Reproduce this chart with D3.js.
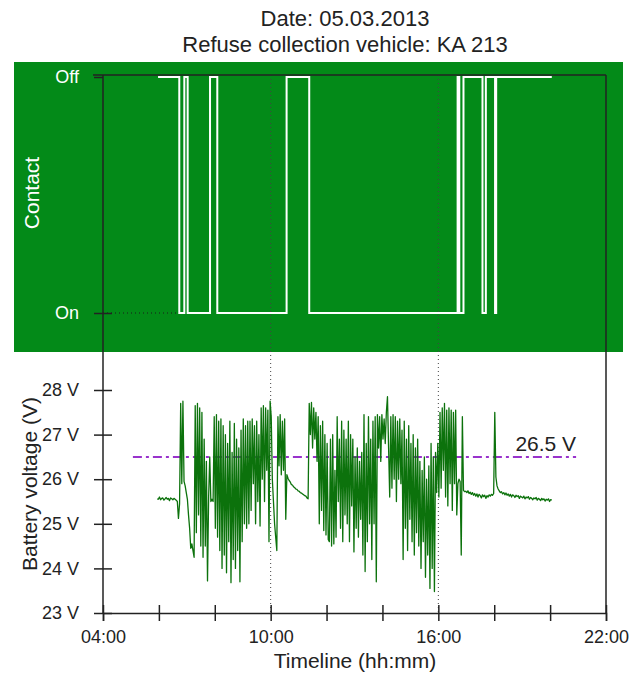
<!DOCTYPE html>
<html>
<head>
<meta charset="utf-8">
<script src="https://cdn.jsdelivr.net/npm/d3@7"></script>
<style>
  body { margin: 0; background: #fff; }
  svg { display: block; font-family: "Liberation Sans", Arial, sans-serif; }
</style>
</head>
<body>
<svg id="chart"></svg>
<script>
const width = 641, height = 675;

// ignition contact: change times (hours) and state from that time on
const contactTimes = [5.97, 6.73, 6.91, 7.03, 7.83, 8.09, 10.57, 11.38, 16.69, 16.75, 16.90, 17.58, 17.70, 18.03, 18.07, 20.06];
const contactStates = ["Off", "On", "Off", "On", "Off", "On", "Off", "On", "Off", "On", "Off", "On", "Off", "On", "Off", "Off"];

// battery voltage, logged every 0.04 h from 05:56
const voltStart = 5.94, voltStep = 0.04;
const voltage = [
  25.56, 25.55, 25.60, 25.54, 25.57, 25.58, 25.53, 25.56, 25.59, 25.55, 25.57, 25.52, 25.58, 25.56, 25.54, 25.57, 25.55, 25.53, 25.50,
  25.12, 25.45, 27.70, 25.90, 27.75, 25.95, 25.85, 25.70, 25.55, 25.20, 24.90, 24.45, 24.55, 24.40, 24.25,
  27.65, 24.80, 27.70, 25.20, 27.60, 24.50, 27.50, 24.25, 26.90, 24.50, 26.40, 23.72, 25.60, 26.50, 25.50, 25.55,
  25.50, 27.40, 24.90, 27.45, 24.70, 27.30, 24.40, 27.35, 24.00, 27.20, 24.30, 27.00, 23.90, 26.80, 24.60, 27.30, 23.68,
  26.60, 24.20, 27.25, 24.00, 26.90, 24.40, 26.70, 23.70, 27.10, 24.60, 27.35, 25.00, 27.20, 24.90, 27.30, 25.00, 27.30, 25.30,
  27.35, 25.90, 27.20, 25.00, 27.30, 25.50, 27.00, 24.95, 27.60, 26.00, 27.65, 25.50, 27.60, 26.20, 27.55, 24.60, 27.75, 27.40, 26.00, 25.50, 25.00, 24.70, 24.40,
  27.40, 26.30, 27.45, 26.10, 27.30, 26.20, 27.35, 25.10, 26.10,
  26.02, 25.97, 25.94, 25.88, 25.87, 25.83, 25.81, 25.78, 25.77, 25.74, 25.73, 25.70, 25.69, 25.67, 25.65, 25.63, 25.62, 25.58, 25.56,
  27.70, 27.00, 27.72, 26.70, 27.60, 26.90, 27.50, 26.40, 27.40, 25.00, 27.20, 25.30, 27.30, 24.85, 27.00, 24.75, 26.80, 24.65, 24.60, 26.90, 24.50, 27.00, 24.55, 26.20, 24.70, 27.40, 25.50, 26.90, 24.90,
  27.30, 24.60, 27.10, 25.20, 26.90, 25.00, 27.30, 24.60, 27.00, 25.40, 26.90, 24.37, 26.50, 24.90, 26.70, 24.70, 26.40, 25.10, 26.60, 24.30, 27.45, 23.93,
  26.80, 24.60, 27.40, 25.00, 26.90, 24.20, 27.30, 25.00, 27.40, 23.70, 27.45, 26.70, 27.40, 26.40, 27.45, 26.90, 27.35, 26.80, 27.50, 27.85, 26.70, 25.60,
  27.40, 25.80, 27.45, 26.00, 27.40, 25.50, 27.30, 26.00, 27.35, 25.90, 27.10, 24.20, 27.30, 24.90, 26.90, 24.40, 27.20, 25.10, 26.80, 24.60,
  27.00, 24.30, 26.70, 24.80, 26.90, 24.50, 26.40, 24.00, 26.20, 24.60, 26.50, 23.80, 26.00, 24.30, 26.30, 23.55, 26.80, 24.00, 26.50, 23.48,
  26.60, 25.70, 26.80, 25.60, 27.50, 25.80, 27.60, 26.20, 27.70, 25.60, 27.55, 25.40, 27.60, 25.90, 27.55, 25.30, 27.50, 25.90, 27.55, 25.20,
  25.90, 26.00, 25.95, 24.30, 27.40, 25.75, 25.72,
  25.73, 25.70, 25.74, 25.68, 25.71, 25.66, 25.70, 25.64, 25.68, 25.62, 25.67, 25.60, 25.66, 25.63, 25.58, 25.65, 25.61, 25.64, 25.57, 25.63, 25.60, 25.65, 25.62, 25.66, 25.64, 25.68,
  27.50, 26.05, 25.85, 25.78,
  25.74, 25.70, 25.72, 25.67, 25.70, 25.65, 25.69, 25.64, 25.67, 25.62, 25.66, 25.60, 25.65, 25.63, 25.59, 25.64, 25.61, 25.63, 25.57, 25.62,
  25.60, 25.58, 25.62, 25.56, 25.60, 25.58, 25.61, 25.55, 25.59, 25.57, 25.54, 25.58, 25.56, 25.59, 25.53, 25.57, 25.55, 25.52, 25.57, 25.54,
  25.56, 25.51, 25.55, 25.53, 25.56, 25.50, 25.54, 25.53
];

const refLevel = 26.5, refStart = 5.07, refEnd = 20.93;
const markerHours = [10, 16];
const hourTicks = [4, 6, 8, 10, 12, 14, 16, 18, 20, 22];
const hourLabels = [4, 10, 16, 22];
const voltTicks = [23, 24, 25, 26, 27, 28];

const svg = d3.select("#chart").attr("width", width).attr("height", height);

const x = d3.scaleLinear().domain([4, 22]).range([103, 606]);
const yV = d3.scaleLinear().domain([23, 28]).range([613, 390]);
const yC = d3.scalePoint().domain(["Off", "On"]).range([77, 313]);
const frameTop = 75, ink = "#222";

// green contact panel
svg.append("rect")
    .attr("x", 14).attr("y", 62).attr("width", 609).attr("height", 290)
    .attr("fill", "#038a18");

// titles
svg.append("text").attr("x", 345).attr("y", 26).attr("text-anchor", "middle")
    .attr("font-size", 22).attr("fill", ink).text("Date: 05.03.2013");
svg.append("text").attr("x", 345).attr("y", 52).attr("text-anchor", "middle")
    .attr("font-size", 22).attr("fill", ink).text("Refuse collection vehicle: KA 213");

// dotted time markers
svg.selectAll(".marker")
    .data(markerHours)
    .enter().append("line")
    .attr("class", "marker")
    .attr("x1", d => x(d)).attr("x2", d => x(d))
    .attr("y1", frameTop).attr("y2", yV(23))
    .attr("stroke", "#444").attr("stroke-width", 1)
    .attr("stroke-dasharray", "1,3");

// dotted guide at "On" up to the first switch-on
svg.append("line")
    .attr("x1", x(4)).attr("x2", x(contactTimes[1]))
    .attr("y1", yC("On")).attr("y2", yC("On"))
    .attr("stroke", "#1a1a1a").attr("stroke-width", 1)
    .attr("stroke-dasharray", "1,3");

// frame
svg.append("line").attr("x1", 93).attr("x2", x(22)).attr("y1", frameTop).attr("y2", frameTop)
    .attr("stroke", ink).attr("stroke-width", 1.5);
svg.append("line").attr("x1", x(4)).attr("x2", x(4)).attr("y1", frameTop).attr("y2", yV(23))
    .attr("stroke", ink).attr("stroke-width", 1.5);
svg.append("line").attr("x1", x(22)).attr("x2", x(22)).attr("y1", frameTop).attr("y2", yV(23))
    .attr("stroke", ink).attr("stroke-width", 1.5);

// contact step line
const contact = contactTimes.map((t, i) => [t, contactStates[i]]);
svg.append("path")
    .datum(contact)
    .attr("fill", "none")
    .attr("stroke", "#fff")
    .attr("stroke-width", 2)
    .attr("d", d3.line().x(d => x(d[0])).y(d => yC(d[1])).curve(d3.curveStepAfter));

// contact axis
const cAxis = svg.append("g")
    .attr("transform", `translate(${x(4)},0)`)
    .call(d3.axisLeft(yC).tickSize(9).tickPadding(15));
cAxis.select(".domain").remove();
cAxis.selectAll(".tick line").attr("x1", d => d === "On" ? 9 : 0).attr("stroke", ink).attr("stroke-width", 1.5);
cAxis.selectAll(".tick text").attr("fill", "#fff").attr("font-size", 18)
    .attr("font-family", "Liberation Sans, Arial, sans-serif");

svg.append("text")
    .attr("transform", `translate(39,193) rotate(-90)`)
    .attr("text-anchor", "middle").attr("font-size", 21).attr("fill", "#fff")
    .text("Contact");

// reference level
svg.append("line")
    .attr("x1", x(refStart)).attr("x2", x(refEnd))
    .attr("y1", yV(refLevel)).attr("y2", yV(refLevel))
    .attr("stroke", "#9933cc").attr("stroke-width", 2)
    .attr("stroke-dasharray", "9,4,3,4");
svg.append("text")
    .attr("x", x(refEnd)).attr("y", yV(refLevel) - 6)
    .attr("text-anchor", "end").attr("font-size", 21).attr("fill", ink)
    .text(`${refLevel} V`);

// voltage trace
const volts = voltage.map((v, i) => [voltStart + i * voltStep, v]);
svg.append("path")
    .datum(volts)
    .attr("fill", "none")
    .attr("stroke", "#0c720c")
    .attr("stroke-width", 1.3)
    .attr("stroke-linejoin", "round")
    .attr("d", d3.line().x(d => x(d[0])).y(d => yV(d[1])));

// voltage axis
const vAxis = svg.append("g")
    .attr("transform", `translate(${x(4)},0)`)
    .call(d3.axisLeft(yV).tickValues(voltTicks).tickSize(9).tickPadding(15).tickFormat(d => `${d} V`));
vAxis.select(".domain").remove();
vAxis.selectAll(".tick line").attr("x1", 9).attr("stroke", ink).attr("stroke-width", 1.5);
vAxis.selectAll(".tick text").attr("fill", ink).attr("font-size", 18)
    .attr("font-family", "Liberation Sans, Arial, sans-serif");

svg.append("text")
    .attr("transform", `translate(37,484) rotate(-90)`)
    .attr("text-anchor", "middle").attr("font-size", 21).attr("fill", ink)
    .text("Battery voltage (V)");

// time axis
const pad = h => String(h).padStart(2, "0") + ":00";
const tAxis = svg.append("g")
    .attr("transform", `translate(0,${yV(23)})`)
    .call(d3.axisBottom(x).tickValues(hourTicks).tickSize(8)
        .tickFormat(h => hourLabels.includes(h) ? pad(h) : ""));
tAxis.select(".domain").attr("stroke", ink).attr("stroke-width", 1.5);
tAxis.selectAll(".tick line").attr("y1", -8).attr("stroke", ink).attr("stroke-width", 1.5);
tAxis.selectAll(".tick text").attr("y", 17).attr("fill", ink).attr("font-size", 18)
    .attr("font-family", "Liberation Sans, Arial, sans-serif");

svg.append("text")
    .attr("x", 355).attr("y", 668)
    .attr("text-anchor", "middle").attr("font-size", 21).attr("fill", ink)
    .text("Timeline (hh:mm)");
</script>
</body>
</html>
